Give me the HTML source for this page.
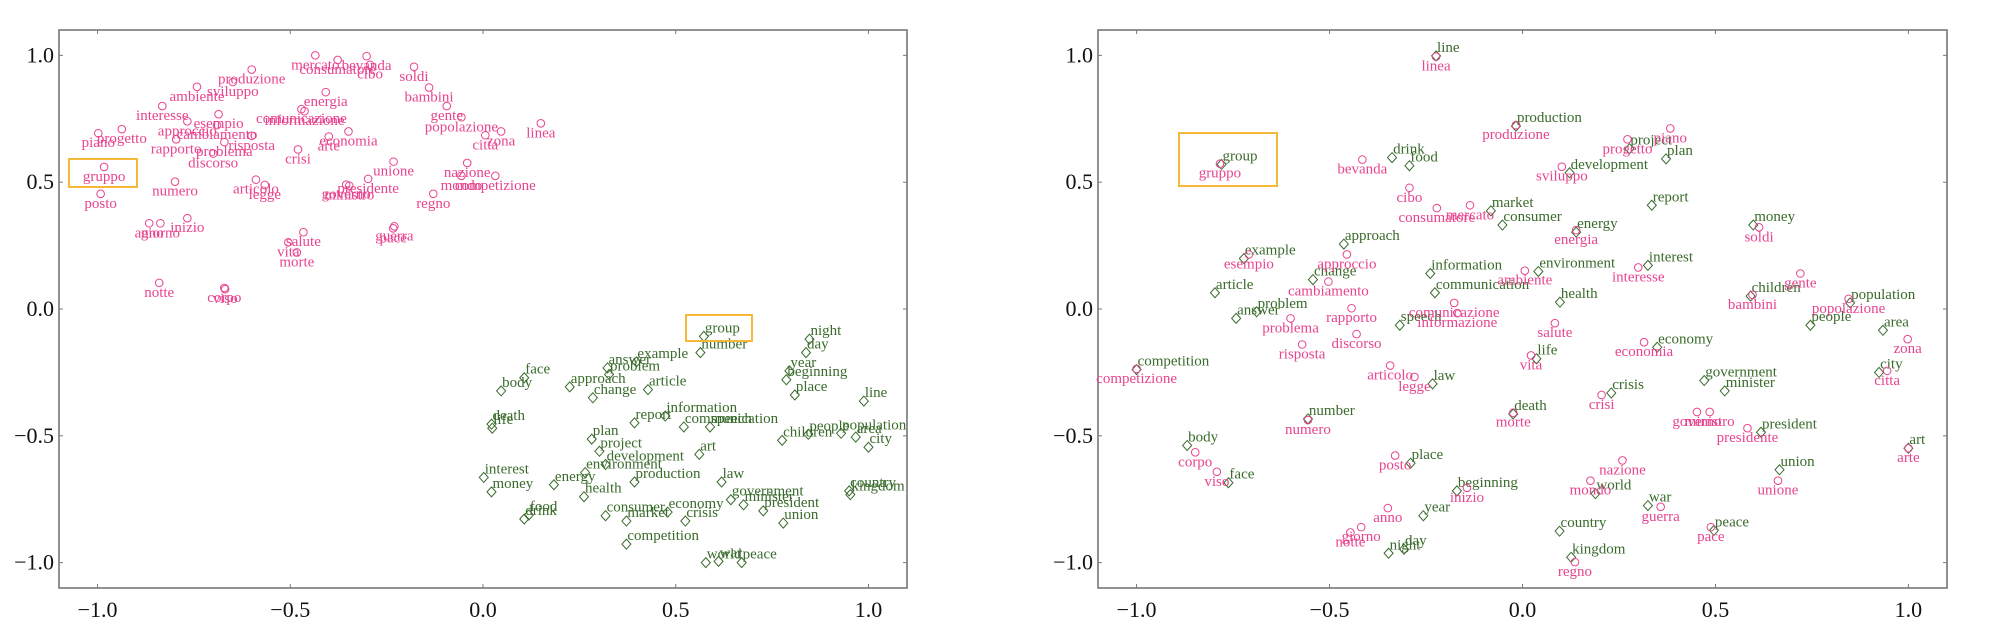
<!DOCTYPE html>
<html><head><meta charset="utf-8"><style>
html,body{margin:0;padding:0;background:#fff;}
svg{display:block;}
.tl{font-family:"Liberation Serif",serif;font-size:22px;fill:#111;}
.wl{font-family:"Liberation Serif",serif;font-size:15px;}
</style></head><body>
<svg id="chart" width="2000" height="630" viewBox="0 0 2000 630" xmlns="http://www.w3.org/2000/svg"></svg>
<script>
const tickValues = [-1.0, -0.5, 0.0, 0.5, 1.0];
const tickLabels = ["\u22121.0", "\u22120.5", "0.0", "0.5", "1.0"];

// Left plot, Italian (pink circles)
const leftItWords = ["mercato","consumatore","bevanda","cibo","soldi","produzione","sviluppo","ambiente","energia","bambini","interesse","esempio","approccio","cambiamento","comunicazione","informazione","gente","popolazione","linea","zona","citta","piano","progetto","rapporto","problema","risposta","discorso","crisi","economia","arte","gruppo","posto","numero","articolo","legge","unione","presidente","governo","ministro","nazione","mondo","competizione","regno","anno","giorno","inizio","salute","vita","morte","guerra","pace","notte","corpo","viso"];
const leftItX = [-0.435,-0.377,-0.302,-0.293,-0.179,-0.6,-0.649,-0.742,-0.408,-0.14,-0.832,-0.686,-0.767,-0.69,-0.471,-0.463,-0.094,-0.056,0.15,0.047,0.006,-0.998,-0.937,-0.796,-0.671,-0.6,-0.7,-0.48,-0.349,-0.4,-0.983,-0.992,-0.799,-0.589,-0.566,-0.232,-0.298,-0.355,-0.347,-0.041,-0.056,0.032,-0.129,-0.866,-0.837,-0.767,-0.466,-0.505,-0.483,-0.23,-0.233,-0.84,-0.671,-0.669];
const leftItY = [1.0,0.982,0.997,0.963,0.955,0.944,0.895,0.876,0.855,0.873,0.8,0.768,0.74,0.725,0.788,0.78,0.8,0.756,0.732,0.70,0.685,0.693,0.709,0.669,0.658,0.683,0.613,0.629,0.70,0.68,0.56,0.454,0.502,0.51,0.489,0.581,0.513,0.49,0.486,0.576,0.525,0.525,0.454,0.338,0.338,0.358,0.303,0.263,0.223,0.326,0.318,0.103,0.083,0.078];

// Left plot, English (green diamonds)
const leftEnWords = ["group","number","night","day","year","beginning","place","line","answer","example","problem","face","body","approach","change","article","information","report","communication","speech","death","life","plan","project","children","people","population","area","city","art","development","environment","production","law","interest","money","energy","health","food","drink","consumer","market","economy","crisis","government","minister","president","union","country","kingdom","competition","world","war","peace"];
const leftEnX = [0.573,0.564,0.847,0.838,0.795,0.787,0.809,0.988,0.323,0.398,0.327,0.107,0.047,0.225,0.285,0.428,0.473,0.393,0.521,0.589,0.022,0.024,0.282,0.302,0.776,0.844,0.929,0.967,1.0,0.561,0.318,0.265,0.393,0.619,0.002,0.022,0.184,0.262,0.119,0.107,0.318,0.372,0.479,0.525,0.643,0.676,0.727,0.779,0.95,0.953,0.372,0.578,0.611,0.671];
const leftEnY = [-0.108,-0.172,-0.119,-0.172,-0.244,-0.279,-0.339,-0.363,-0.2325,-0.2085,-0.258,-0.271,-0.323,-0.307,-0.35,-0.318,-0.422,-0.449,-0.465,-0.465,-0.454,-0.47,-0.513,-0.561,-0.518,-0.494,-0.49,-0.505,-0.545,-0.573,-0.613,-0.645,-0.682,-0.682,-0.664,-0.721,-0.693,-0.74,-0.812,-0.828,-0.815,-0.836,-0.801,-0.836,-0.752,-0.772,-0.796,-0.844,-0.717,-0.732,-0.927,-1.0,-0.995,-1.0];

// Right plot, English (green diamonds)
const rightEnWords = ["line","production","project","plan","drink","food","group","development","market","consumer","report","energy","money","approach","example","change","information","environment","interest","communication","health","children","article","answer","problem","speech","people","population","area","economy","life","competition","city","law","government","minister","crisis","number","death","president","body","art","place","union","face","beginning","world","war","year","peace","country","day","night","kingdom"];
const rightEnX = [-0.224,-0.017,0.277,0.372,-0.338,-0.293,-0.78,0.122,-0.082,-0.052,0.335,0.139,0.598,-0.463,-0.722,-0.543,-0.239,0.041,0.325,-0.227,0.097,0.591,-0.797,-0.742,-0.689,-0.318,0.746,0.849,0.934,0.349,0.036,-1.0,0.924,-0.233,0.471,0.524,0.23,-0.556,-0.024,0.618,-0.869,1.0,-0.29,0.666,-0.762,-0.17,0.189,0.325,-0.257,0.496,0.096,-0.307,-0.347,0.126];
const rightEnY = [0.998,0.721,0.632,0.592,0.597,0.565,0.57,0.537,0.387,0.331,0.409,0.303,0.331,0.256,0.199,0.116,0.14,0.148,0.172,0.064,0.027,0.051,0.064,-0.037,-0.011,-0.064,-0.064,0.024,-0.084,-0.151,-0.196,-0.239,-0.25,-0.295,-0.282,-0.323,-0.331,-0.433,-0.414,-0.486,-0.538,-0.549,-0.608,-0.634,-0.685,-0.717,-0.728,-0.775,-0.815,-0.873,-0.876,-0.947,-0.963,-0.979];

// Right plot, Italian (pink circles)
const rightItWords = ["linea","produzione","piano","progetto","bevanda","gruppo","sviluppo","cibo","mercato","consumatore","energia","soldi","approccio","esempio","cambiamento","ambiente","interesse","gente","bambini","popolazione","rapporto","comunicazione","informazione","problema","salute","discorso","zona","risposta","economia","vita","competizione","articolo","citta","legge","crisi","governo","ministro","numero","morte","presidente","corpo","arte","posto","nazione","viso","mondo","unione","inizio","guerra","anno","pace","giorno","notte","regno"];
const rightItX = [-0.224,-0.017,0.383,0.272,-0.415,-0.784,0.102,-0.293,-0.136,-0.222,0.139,0.613,-0.455,-0.709,-0.503,0.006,0.3,0.72,0.596,0.845,-0.443,-0.177,-0.169,-0.601,0.084,-0.43,0.998,-0.571,0.315,0.022,-1.0,-0.343,0.945,-0.28,0.205,0.452,0.485,-0.556,-0.024,0.583,-0.848,1.0,-0.33,0.259,-0.792,0.176,0.662,-0.144,0.358,-0.349,0.488,-0.418,-0.446,0.136];
const rightItY = [0.995,0.725,0.712,0.669,0.589,0.573,0.561,0.478,0.409,0.398,0.311,0.322,0.215,0.215,0.108,0.151,0.164,0.14,0.056,0.04,0.003,0.024,-0.016,-0.037,-0.056,-0.099,-0.119,-0.14,-0.131,-0.183,-0.236,-0.223,-0.244,-0.268,-0.339,-0.406,-0.406,-0.438,-0.409,-0.47,-0.565,-0.549,-0.578,-0.597,-0.642,-0.677,-0.677,-0.705,-0.78,-0.785,-0.86,-0.86,-0.881,-0.998];

const NS = "http://www.w3.org/2000/svg";
const svg = document.getElementById('chart');
const PINK = "#e8448f", GREEN = "#3a6b2c", BOX = "#f5b93a";

function mk(tag, attrs, parent) {
  const e = document.createElementNS(NS, tag);
  for (const k in attrs) e.setAttribute(k, attrs[k]);
  (parent || svg).appendChild(e);
  return e;
}

function makePlot(name, left, right, top, bottom) {
  const g = mk('g', {});
  
  
  const xs = v => left + (v + 1.1) / 2.2 * (right - left);
  const ys = v => bottom - (v + 1.1) / 2.2 * (bottom - top);
  const frame = mk('rect', {x: left, y: top, width: right - left, height: bottom - top, fill: 'none', stroke: '#777', 'stroke-width': 1.6}, g);
  
  
  tickValues.forEach((v, i) => {
    const x = xs(v), y = ys(v);
    mk('line', {x1: x, y1: bottom, x2: x, y2: bottom - 4, stroke: '#777', 'stroke-width': 1}, g);
    mk('line', {x1: x, y1: top, x2: x, y2: top + 4, stroke: '#777', 'stroke-width': 1}, g);
    mk('line', {x1: left, y1: y, x2: left + 4, y2: y, stroke: '#777', 'stroke-width': 1}, g);
    mk('line', {x1: right, y1: y, x2: right - 4, y2: y, stroke: '#777', 'stroke-width': 1}, g);
    const tx = mk('text', {x: x, y: bottom + 29, 'text-anchor': 'middle', class: 'tl'}, g);
    tx.textContent = tickLabels[i];
    
    
    const ty = mk('text', {x: left - 5, y: y + 7, 'text-anchor': 'end', class: 'tl'}, g);
    ty.textContent = tickLabels[i];
    
    
  });
  return {g, xs, ys};
}

function drawIt(p, words, X, Y) {
  words.forEach((w, i) => {
    const x = p.xs(X[i]), y = p.ys(Y[i]);
    const c = mk('circle', {cx: x, cy: y, r: 3.8, fill: 'none', stroke: PINK, 'stroke-width': 1}, p.g);
    
    
    const t = mk('text', {x: x, y: y + 14, 'text-anchor': 'middle', fill: PINK, class: 'wl'}, p.g);
    t.textContent = w;
    
    
  });
}
function drawEn(p, words, X, Y) {
  words.forEach((w, i) => {
    const x = p.xs(X[i]), y = p.ys(Y[i]);
    const d = mk('path', {d: `M${x} ${y-5}L${x+4.5} ${y}L${x} ${y+5}L${x-4.5} ${y}Z`, fill: 'none', stroke: GREEN, 'stroke-width': 1}, p.g);
    
    
    const t = mk('text', {x: x + 1, y: y - 4, fill: GREEN, class: 'wl'}, p.g);
    t.textContent = w;
    
    
  });
}
function box(p, x0, y0, x1, y1, nm) {
  const r = mk('rect', {x: x0, y: y0, width: x1 - x0, height: y1 - y0, fill: 'none', stroke: BOX, 'stroke-width': 2}, p.g);
  
  
}

const pL = makePlot('left-plot', 59, 907, 30, 588);
drawIt(pL, leftItWords, leftItX, leftItY);
drawEn(pL, leftEnWords, leftEnX, leftEnY);
box(pL, 69, 159, 137, 187, 'gruppo-highlight-box');
box(pL, 686, 315, 752, 341, 'group-highlight-box');

const pR = makePlot('right-plot', 1098, 1947, 30, 588);
drawEn(pR, rightEnWords, rightEnX, rightEnY);
drawIt(pR, rightItWords, rightItX, rightItY);
box(pR, 1179, 133, 1277, 186, 'group-gruppo-highlight-box');
</script>
</body></html>
